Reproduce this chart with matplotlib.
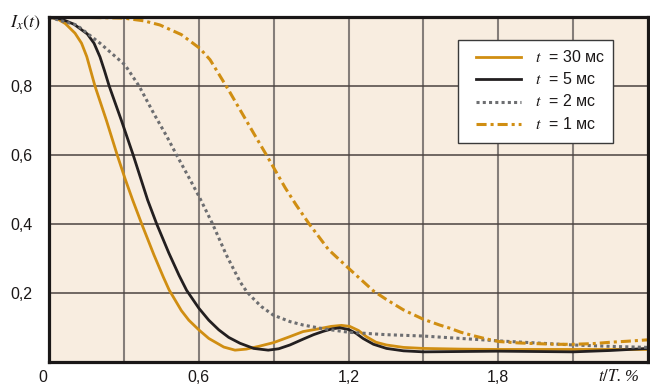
import matplotlib
matplotlib.use('Agg')
import matplotlib.pyplot as plt
from matplotlib.lines import Line2D
from matplotlib.patches import Rectangle

plt.rcParams['font.family'] = ['Liberation Sans', 'DejaVu Sans']
plt.rcParams['mathtext.fontset'] = 'stix'

# ---- data ----
x_30 = [0, 0.03, 0.065, 0.104, 0.13, 0.151, 0.184, 0.23, 0.273, 0.305, 0.335, 0.371,
        0.42, 0.458, 0.481, 0.53, 0.56, 0.6, 0.64, 0.7, 0.745, 0.79, 0.84, 0.9, 0.96,
        1.018, 1.08, 1.13, 1.172, 1.205, 1.24, 1.272, 1.31, 1.352, 1.42, 1.5, 1.65,
        1.8, 1.95, 2.1, 2.25, 2.4]
y_30 = [1.0, 0.997, 0.982, 0.954, 0.925, 0.886, 0.8, 0.7, 0.6, 0.53, 0.469, 0.4,
        0.31, 0.245, 0.208, 0.148, 0.12, 0.092, 0.067, 0.042, 0.033, 0.036, 0.044, 0.055, 0.071,
        0.087, 0.095, 0.102, 0.105, 0.102, 0.09, 0.072, 0.056, 0.048, 0.041, 0.038, 0.036,
        0.035, 0.035, 0.035, 0.035, 0.035]

x_5 = [0, 0.05, 0.1, 0.153, 0.18, 0.204, 0.222, 0.241, 0.29, 0.337, 0.395, 0.431, 0.48,
       0.521, 0.551, 0.6, 0.64, 0.68, 0.72, 0.765, 0.82, 0.878, 0.92, 0.965, 1.018, 1.06,
       1.1, 1.135, 1.165, 1.2, 1.23, 1.258, 1.3, 1.352, 1.42, 1.5, 1.65, 1.8, 1.95, 2.1,
       2.25, 2.4]
y_5 = [1.0, 0.995, 0.98, 0.952, 0.925, 0.885, 0.845, 0.8, 0.7, 0.6, 0.469, 0.4, 0.315,
       0.25, 0.207, 0.155, 0.12, 0.092, 0.07, 0.053, 0.038, 0.033, 0.037, 0.048, 0.065, 0.078,
       0.088, 0.095, 0.098, 0.093, 0.082, 0.067, 0.05, 0.038, 0.031, 0.028, 0.029, 0.03, 0.029,
       0.028, 0.032, 0.038]

x_2 = [0, 0.11, 0.204, 0.304, 0.361, 0.42, 0.471, 0.511, 0.56, 0.602, 0.655, 0.71,
       0.765, 0.79, 0.811, 0.85, 0.898, 0.965, 1.018, 1.1, 1.2, 1.35, 1.5, 1.65, 1.8,
       1.95, 2.1, 2.25, 2.4]
y_2 = [1.0, 0.978, 0.925, 0.862, 0.8, 0.72, 0.655, 0.6, 0.535, 0.478, 0.4, 0.31,
       0.232, 0.205, 0.188, 0.16, 0.135, 0.116, 0.106, 0.095, 0.085, 0.078, 0.074, 0.067, 0.06,
       0.054, 0.048, 0.044, 0.041]

x_1 = [0, 0.15, 0.298, 0.38, 0.444, 0.53, 0.604, 0.645, 0.678, 0.72, 0.76, 0.82, 0.871,
       0.946, 0.99, 1.042, 1.12, 1.2, 1.3, 1.352, 1.42, 1.499, 1.565, 1.605, 1.65, 1.7,
       1.75, 1.803, 1.88, 1.95, 2.03, 2.1, 2.18, 2.25, 2.32, 2.4]
y_1 = [1.0, 1.0, 0.998, 0.99, 0.978, 0.95, 0.91, 0.877, 0.838, 0.788, 0.738, 0.663, 0.6,
       0.505, 0.455, 0.4, 0.325, 0.271, 0.205, 0.18, 0.15, 0.123, 0.106, 0.097, 0.085, 0.075,
       0.066, 0.058, 0.054, 0.052, 0.05, 0.05, 0.052, 0.056, 0.059, 0.063]

labels = ['30 мс', '5 мс', '2 мс', '1 мс']
x_ticks = [0.6, 1.2, 1.8]
x_ticklabels = ['0,6', '1,2', '1,8']
y_ticks = [0.2, 0.4, 0.6, 0.8]
y_ticklabels = ['0,2', '0,4', '0,6', '0,8']
x_grid = [0.3, 0.6, 0.9, 1.2, 1.5, 1.8, 2.1]

# ---- styles ----
GOLD = '#d08e12'
BLACK = '#231f20'
GRAY = '#6d6e71'
styles = [
    dict(color=GOLD, lw=2.0, ls='-'),
    dict(color=BLACK, lw=2.0, ls='-'),
    dict(color=GRAY, lw=2.2, ls=(0, (1, 1.05)), dash_capstyle='butt'),
    dict(color=GOLD, lw=2.2, ls=(0, (3.3, 1.3, 1.0, 1.3)), dash_capstyle='butt'),
]

W, H = 650, 385
fig = plt.figure(figsize=(6.5, 3.85), dpi=100)
fig.patch.set_facecolor('white')
ax = fig.add_axes([49.1 / W, 1 - 361.5 / H, (648 - 49.1) / W, (361.5 - 17.4) / H])
ax.set_facecolor('#f8ede0')
ax.set_xlim(0, 2.4)
ax.set_ylim(0, 1)

for xv in x_grid:
    ax.axvline(xv, color='#857e7a', lw=1.5, zorder=1)
for yv in y_ticks:
    ax.axhline(yv, color='#4b4340', lw=1.1, zorder=1)

series = [(x_30, y_30), (x_5, y_5), (x_2, y_2), (x_1, y_1)]
for (xs, ys), st in zip(series, styles):
    ax.plot(xs, ys, zorder=3, solid_capstyle='round', solid_joinstyle='round', **st)

for s in ax.spines.values():
    s.set_linewidth(2.3)
    s.set_color('#1a1717')
    s.set_zorder(5)

ax.set_xticks(x_ticks)
ax.set_xticklabels(x_ticklabels)
ax.set_yticks(y_ticks)
ax.set_yticklabels(y_ticklabels)
ax.tick_params(axis='both', length=0, labelsize=11.5, colors='#1a1717')
ax.tick_params(axis='y', pad=12)
ax.tick_params(axis='x', pad=6)

def fpx(x, y):
    return (x / W, 1 - y / H)

fig.text(*fpx(43, 377), '0', fontsize=11.5, ha='center', va='center', color='#1a1717')
fig.text(*fpx(25, 23), r'$I_x(t)$', fontsize=13, ha='center', va='center', color='#1a1717')
fig.text(*fpx(598, 381), r'$t/T$. %', fontsize=12, ha='left', va='baseline',
         family='Liberation Serif', style='italic', color='#1a1717')

# legend
x0, y0 = fpx(458, 143)
x1, y1 = fpx(613, 40)
fig.patches.append(Rectangle((x0, y0), x1 - x0, y1 - y0, transform=fig.transFigure,
                             facecolor='white', edgecolor='#3a3a3a', lw=1.0, zorder=10))
rows = [56.5, 78.5, 101.5, 124]
for ry, st, lab in zip(rows, styles, labels):
    (lx0, ly), (lx1, _) = fpx(476, ry), fpx(521, ry)
    fig.add_artist(Line2D([lx0, lx1], [ly, ly], transform=fig.transFigure, zorder=11, **st))
    fig.text(*fpx(535, ry), r'$t$  = ' + lab, fontsize=11.5, ha='left', va='center',
             color='#1a1717', zorder=12)

fig.savefig('out.png', dpi=100, facecolor='white')
